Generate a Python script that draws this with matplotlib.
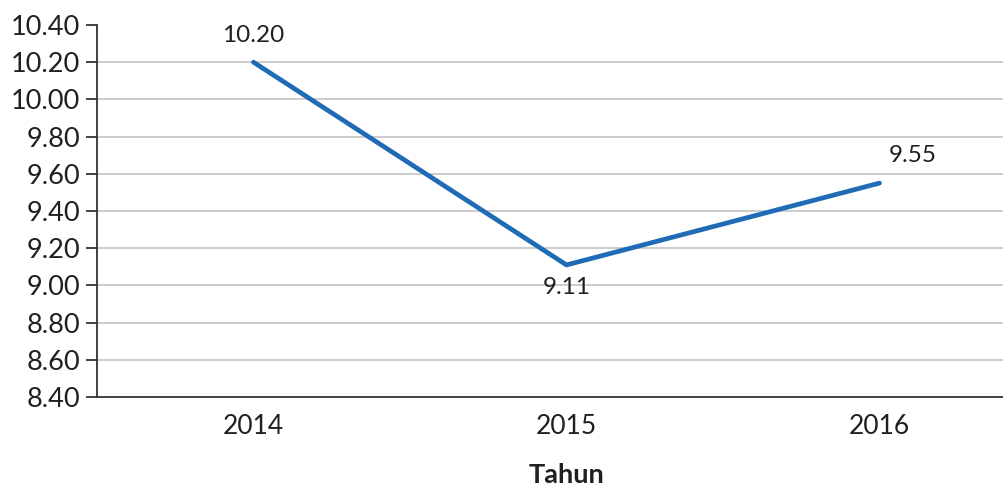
import matplotlib.pyplot as plt

years = ['2014', '2015', '2016']
values = [10.20, 9.11, 9.55]
y_ticks = [8.40, 8.60, 8.80, 9.00, 9.20, 9.40, 9.60, 9.80, 10.00, 10.20, 10.40]

plt.rcParams['font.family'] = ['Lato', 'DejaVu Sans']

fig = plt.figure(figsize=(10.04, 4.86), dpi=100)
# axes runs past the right edge, like the original
ax = fig.add_axes([97 / 1004, 89 / 486, 939 / 1004, 372 / 486])

x = list(range(len(years)))
ax.plot(x, values, color='#1f6bb5', linewidth=3.4, solid_capstyle='round', zorder=3)

ax.set_xlim(-0.5, len(years) - 0.5)
ax.set_ylim(8.40, 10.40)
ax.set_yticks(y_ticks)
ax.set_yticklabels(['%.2f' % v for v in y_ticks])
ax.set_xticks(x)
ax.set_xticklabels(years)

for v in y_ticks[1:-1]:
    ax.axhline(v, color='#c8c8c8', linewidth=1.3, zorder=1)

for side in ['top', 'right']:
    ax.spines[side].set_visible(False)
for side in ['left', 'bottom']:
    ax.spines[side].set_color('#333333')
    ax.spines[side].set_linewidth(1.3)

ax.tick_params(axis='y', length=8, width=1.3, color='#333333', labelsize=19.5,
               labelcolor='#231f20', pad=4)
ax.tick_params(axis='x', length=0, labelsize=19, labelcolor='#231f20', pad=12)

# data labels
offsets = [(0, 19, 'center'), (0, -16, 'center'), (24, 20, 'left')]
for xi, v, (dx, dy, ha) in zip(x, values, offsets):
    ax.annotate('%.2f' % v, (xi, v), xytext=(dx, dy), textcoords='offset points',
                ha='center', va='center', fontsize=17.5, color='#231f20')

ax.set_xlabel('Tahun', fontsize=19.5, fontweight='bold', color='#231f20')
ax.xaxis.label.set_va('center')
ax.xaxis.set_label_coords((567 - 97) / 939, -0.21)

fig.savefig('out.png', dpi=100)
